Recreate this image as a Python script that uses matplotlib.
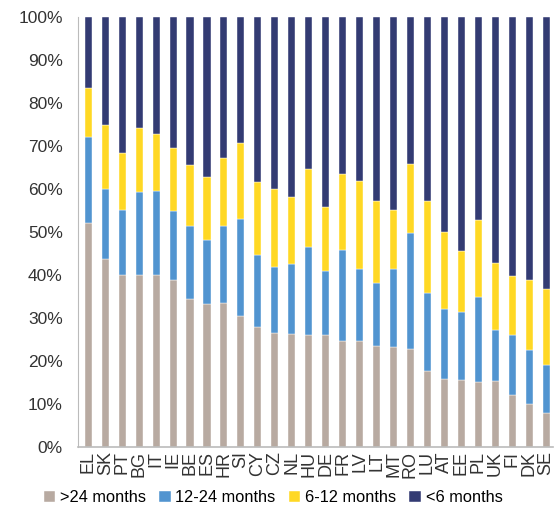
import matplotlib
matplotlib.use("Agg")
import matplotlib.pyplot as plt
import numpy as np

plt.rcParams['font.family'] = ['Liberation Sans', 'DejaVu Sans']

countries = ["EL", "SK", "PT", "BG", "IT", "IE", "BE", "ES", "HR", "SI", "CY", "CZ", "NL", "HU",
             "DE", "FR", "LV", "LT", "MT", "RO", "LU", "AT", "EE", "PL", "UK", "FI", "DK", "SE"]

# cumulative tops (percent)
over24 = [52.1, 43.7, 39.9, 40.1, 39.9, 38.8, 34.5, 33.2, 33.6, 30.4, 28.0, 26.5, 26.2, 26.0,
          26.0, 24.7, 24.6, 23.4, 23.2, 22.7, 17.6, 15.8, 15.5, 15.2, 15.3, 12.0, 10.1, 8.0]
cum_12_24 = [72.2, 60.0, 55.2, 59.4, 59.6, 55.0, 51.4, 48.2, 51.3, 53.1, 44.6, 41.9, 42.5, 46.4,
             40.9, 45.7, 41.5, 38.2, 41.4, 49.8, 35.9, 32.1, 31.3, 34.8, 27.3, 26.0, 22.6, 19.0]
cum_6_12 = [83.5, 74.8, 68.3, 74.1, 72.7, 69.6, 65.5, 62.7, 67.1, 70.6, 61.6, 59.9, 58.2, 64.6,
            55.7, 63.4, 61.9, 57.1, 55.2, 65.7, 57.3, 49.9, 45.5, 52.8, 42.7, 39.7, 38.8, 36.7]

series_names = [">24 months", "12-24 months", "6-12 months", "<6 months"]
colors = ["#B8AAA1", "#5194D0", "#FFD824", "#333B73"]

over24 = np.array(over24)
m12_24 = np.array(cum_12_24) - over24
m6_12 = np.array(cum_6_12) - np.array(cum_12_24)
under6 = 100 - np.array(cum_6_12)
values = [over24, m12_24, m6_12, under6]

fig = plt.figure(figsize=(5.54, 5.15), dpi=100)
ax = fig.add_axes([0.141, 0.132, 0.857, 0.835])

x = np.arange(len(countries))
bottom = np.zeros(len(countries))
for name, vals, c in zip(series_names, values, colors):
    ax.bar(x, vals, width=0.42, bottom=bottom, color=c, label=name,
           edgecolor='white', linewidth=0.3)
    bottom = bottom + vals

ax.set_ylim(0, 100)
ax.set_xlim(-0.6, 27.4)
ax.set_yticks(np.arange(0, 101, 10))
ax.set_yticklabels([f"{v}%" for v in range(0, 101, 10)], fontsize=12.5, color='#333333')
ax.set_xticks(x)
ax.set_xticklabels(countries, rotation=90, fontsize=13, color='#333333')
ax.tick_params(axis='x', length=0, pad=3)
ax.tick_params(axis='y', length=0, pad=11)
for s in ['top', 'right']:
    ax.spines[s].set_visible(False)
ax.spines['left'].set_color('#BBBBBB')
ax.spines['bottom'].set_color('#BBBBBB')
ax.spines['bottom'].set_linewidth(1.2)

fig.legend(loc='lower center', bbox_to_anchor=(0.493, -0.01), ncol=4, frameon=False,
           fontsize=11.8, handlelength=0.7, handleheight=0.7, handletextpad=0.3,
           columnspacing=0.8)

fig.savefig("out.png", dpi=100)
